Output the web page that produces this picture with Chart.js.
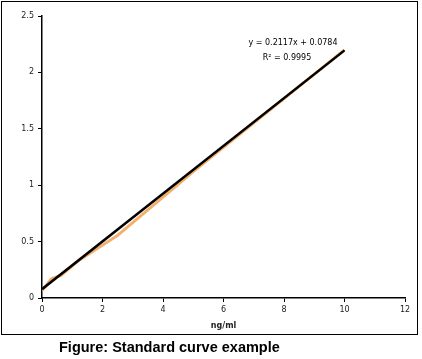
<!DOCTYPE html>
<html>
<head>
<meta charset="utf-8">
<script src="https://cdn.jsdelivr.net/npm/chart.js@4"></script>
<style>
  html, body { margin: 0; padding: 0; background: #fff; }
  #wrap { width: 422px; height: 359px; }
</style>
</head>
<body>
<div id="wrap"><canvas id="curve" width="422" height="359"></canvas></div>
<script>
// Standard curve data (ng/ml vs absorbance)
var concValues = [0, 0.3125, 0.625, 1.25, 2.5, 5, 10];
var absValues = [0.065, 0.17, 0.2, 0.34, 0.555, 1.12, 2.2];

// Linear trendline as printed on the chart
var trendX = [0, 10];
var trendY = [0.0784, 2.1954];
var trendLabels = ["y = 0.2117x + 0.0784", "R\u00b2 = 0.9995"];

var xTicks = [0, 2, 4, 6, 8, 10, 12];
var yTicks = [0, 0.5, 1, 1.5, 2, 2.5];
var captionText = "Figure: Standard curve example";

function toPoints(xs, ys) {
    return xs.map(function (x, i) { return { x: x, y: ys[i] }; });
}

// Border, equation and caption
var decorPlugin = {
    id: 'decor',
    afterDraw: function (chart) {
        var ctx = chart.ctx;
        ctx.save();
        ctx.strokeStyle = '#000';
        ctx.lineWidth = 1;
        ctx.strokeRect(1.5, 1.5, 416, 333);

        ctx.fillStyle = '#000';
        ctx.font = '8px "DejaVu Sans"';
        ctx.textAlign = 'center';
        ctx.textBaseline = 'middle';
        ctx.fillText(trendLabels[0], 293, 43);
        ctx.fillText(trendLabels[1], 287, 58);

        ctx.font = 'bold 14.5px "Liberation Sans"';
        ctx.textAlign = 'left';
        ctx.textBaseline = 'alphabetic';
        ctx.fillText(captionText, 59, 352);
        ctx.restore();
    }
};

new Chart("curve", {
    type: "scatter",
    data: {
        datasets: [{
            data: toPoints(concValues, absValues),
            showLine: true,
            borderColor: "#F4B06A",
            borderWidth: 3,
            pointRadius: 0,
            tension: 0,
            order: 1
        }, {
            data: toPoints(trendX, trendY),
            showLine: true,
            borderColor: "#000",
            borderWidth: 2.5,
            pointRadius: 0,
            order: 0
        }]
    },
    options: {
        responsive: false,
        animation: false,
        layout: { padding: { top: 16, right: 17, bottom: 24, left: 0 } },
        plugins: {
            legend: { display: false },
            tooltip: { enabled: false }
        },
        scales: {
            x: {
                type: "linear",
                min: 0,
                max: 12,
                afterBuildTicks: function (axis) {
                    axis.ticks = xTicks.map(function (v) { return { value: v }; });
                },
                afterFit: function (axis) { axis.height = 37; },
                grid: { drawOnChartArea: false, drawTicks: true, tickLength: 4, color: "#000" },
                border: { color: "#000", width: 1.5 },
                ticks: { color: "#222", font: { family: "DejaVu Sans", size: 8 }, padding: 3, maxRotation: 0 },
                title: { display: true, text: "ng/ml", color: "#222", font: { family: "DejaVu Sans", size: 8, weight: "bold" }, padding: { top: 2 } }
            },
            y: {
                type: "linear",
                min: 0,
                max: 2.5,
                afterBuildTicks: function (axis) {
                    axis.ticks = yTicks.map(function (v) { return { value: v }; });
                },
                afterFit: function (axis) { axis.width = 42; },
                grid: { drawOnChartArea: false, drawTicks: true, tickLength: 4, color: "#000" },
                border: { color: "#000", width: 1.5 },
                ticks: {
                    color: "#222",
                    font: { family: "DejaVu Sans", size: 8 },
                    padding: 4,
                    callback: function (v) { return String(v); }
                }
            }
        }
    },
    plugins: [decorPlugin]
});
</script>
</body>
</html>
